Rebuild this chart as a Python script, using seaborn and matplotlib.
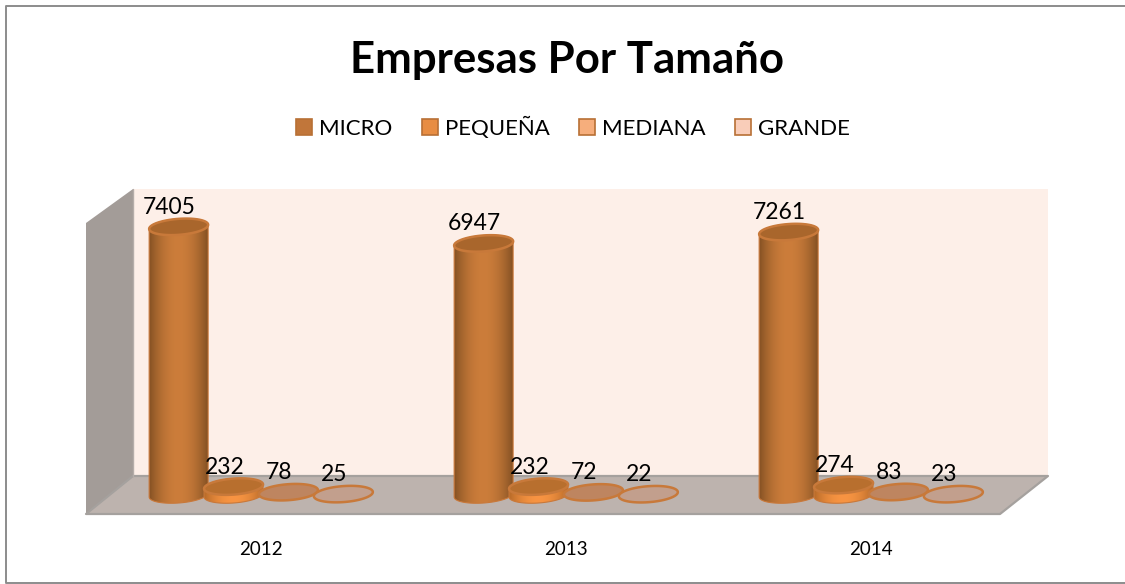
import numpy as np
import pandas as pd
import seaborn as sns
import matplotlib.pyplot as plt
from matplotlib.patches import Patch, PathPatch, Polygon
from matplotlib.path import Path

years = ['2012', '2013', '2014']
sizes = ['MICRO', 'PEQUEÑA', 'MEDIANA', 'GRANDE']
micro = [7405, 6947, 7261]
pequena = [232, 232, 274]
mediana = [78, 72, 83]
grande = [25, 22, 23]

legend_colors = ['#C1763A', '#E88D43', '#F6AE7C', '#F9CDB9']
top_colors = ['#A9662C', '#B86F2E', '#BE8560', '#C29F8D']

W, H = 1125, 584

sns.set_theme(style='white')
plt.rcParams['font.family'] = ['Lato', 'DejaVu Sans']

df = pd.DataFrame({
    'year': years * 4,
    'size': np.repeat(sizes, 3),
    'count': micro + pequena + mediana + grande,
})

fig = plt.figure(figsize=(W / 100, H / 100), dpi=100, facecolor='white')

# capa de fondo en pixeles: marco, paredes, piso y cilindros
bg = fig.add_axes([0, 0, 1, 1], zorder=0)
bg.set_xlim(0, W)
bg.set_ylim(H, 0)
bg.axis('off')

# marco: arriba, izquierda y abajo llegan al borde de la imagen
bg.plot([W, 6, 6, W], [6, 6, 583, 583], color='#8C8C8C', lw=1.4)
bg.add_patch(Polygon([(133, 189), (1048, 189), (1048, 476), (133, 476)],
                     fc='#FDEFE8', ec='none'))
bg.add_patch(Polygon([(86, 223), (133, 189), (133, 476), (86, 514)],
                     fc='#A39C98', ec='none'))
bg.add_patch(Polygon([(133, 476), (1048, 476), (1000, 514), (86, 514)],
                     fc='#BDB3AE', ec='none'))
bg.plot([133, 1048, 1000, 86, 133], [476, 476, 514, 514, 476],
        color='#A5A19E', lw=1.6)
bg.plot([133, 133], [189, 476], color='#B5ADA9', lw=1)

# ejes de datos, transparentes, encima del fondo
ax_left, ax_right = 108.5, 1023.5
ax_top, ax_bottom = 189, 495
ax = fig.add_axes([ax_left / W, 1 - ax_bottom / H,
                   (ax_right - ax_left) / W, (ax_bottom - ax_top) / H],
                  zorder=1)
ax.patch.set_alpha(0)

sns.barplot(data=df, x='year', y='count', hue='size', order=years,
            hue_order=sizes, palette=legend_colors, width=0.72, gap=0,
            legend=False, ax=ax)
ax.set_ylim(0, 8450)
ax.set_xlim(-0.5, 2.5)
ax.set_xlabel('')
ax.set_ylabel('')
ax.set_yticks([])
ax.tick_params(axis='x', length=0, pad=33, labelsize=13.5, labelcolor='black')
sns.despine(ax=ax, left=True, bottom=True)


def to_px(x, y):
    px = ax.transData.transform((x, y))
    return px[0], H - px[1]


def ellipse(cx, cy, a, t):
    return cx + a * np.cos(t), cy + 8 * np.sin(t) - 0.07 * a * np.cos(t)


def cylinder(cx, base, top, a, i):
    # cuerpo con degradado recortado al contorno del cilindro
    xt, yt = ellipse(cx, top, a, np.linspace(np.pi, 0, 40) * -1)
    xb, yb = ellipse(cx, base, a, np.linspace(0, np.pi, 40))
    outline = np.column_stack([np.r_[xb, xt], np.r_[yb, yt]])
    outline = np.vstack([outline, outline[0]])
    if i < 2:
        dark, light = ((0.52, 0.32, 0.14), (0.80, 0.49, 0.23)) if i == 0 \
            else ((0.72, 0.42, 0.16), (0.97, 0.58, 0.26))
        s = np.abs(np.linspace(-1, 1, 80)) ** 2
        grad = np.array([[np.array(dark) * v + np.array(light) * (1 - v)
                          for v in s]])
        im = bg.imshow(grad, extent=(cx - a, cx + a, base + 10, top - 10),
                       aspect='auto', zorder=3 + i)
        clip = PathPatch(Path(outline), fc='none', ec='#C9783A', lw=0.8,
                         zorder=3 + i)
        bg.add_patch(clip)
        im.set_clip_path(clip)
    # tapa superior
    xe, ye = ellipse(cx, top, a, np.linspace(0, 2 * np.pi, 80))
    bg.add_patch(Polygon(np.column_stack([xe, ye]), fc=top_colors[i],
                         ec='#C8793A', lw=1.8, zorder=3 + i))


for i, container in enumerate(ax.containers):
    for bar in container:
        cx = bar.get_x() + bar.get_width() / 2
        h = bar.get_height()
        bar.set_alpha(0)
        px, base = to_px(cx, 0)
        _, top = to_px(cx, h)
        cylinder(px, base, top, 29.5, i)
        ax.annotate(f'{h:.0f}', (cx, h), xytext=(-6.5, 14),
                    textcoords='offset points', ha='center', va='center',
                    fontsize=16.5, color='black')
bg.set_xlim(0, W)
bg.set_ylim(H, 0)

handles = [Patch(fc=c, ec='#B87035', lw=1.2) for c in legend_colors]
fig.legend(handles, sizes, ncols=4, loc='center', bbox_to_anchor=(573 / W, 1 - 128 / H),
           frameon=False, fontsize=16, handlelength=0.72, handleheight=0.72,
           handletextpad=0.32, columnspacing=1.31, labelcolor='black')

fig.text(567 / W, 1 - 60 / H, 'Empresas Por Tamaño', ha='center', va='center',
         fontsize=31.5, fontweight='bold', color='black')

fig.savefig('out.png', dpi=100)
